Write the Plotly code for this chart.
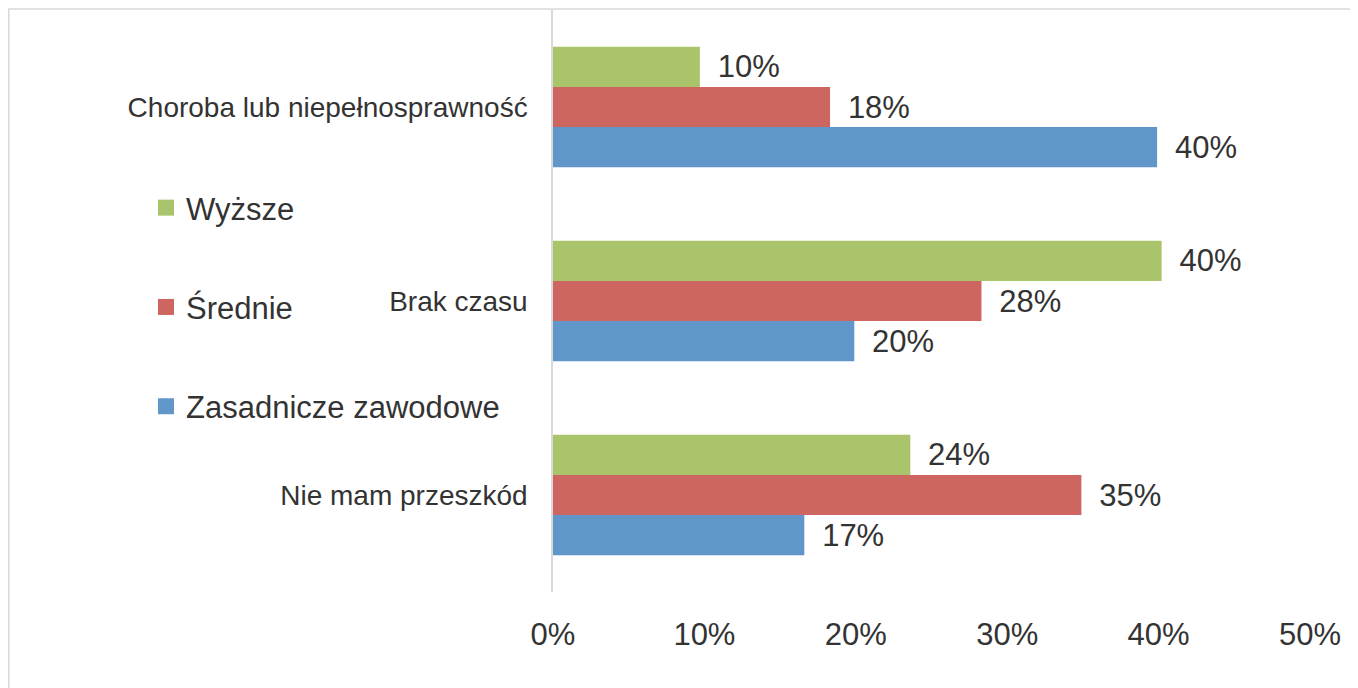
import plotly.graph_objects as go

categories = ["Choroba lub niepełnosprawność", "Brak czasu", "Nie mam przeszkód"]
series_names = ["Wyższe", "Średnie", "Zasadnicze zawodowe"]
wyzsze = [9.7, 40.2, 23.6]
srednie = [18.3, 28.3, 34.9]
zasadnicze = [39.9, 19.9, 16.6]
colors = ["#AAC46B", "#CD6660", "#6096C9"]
x_ticks = [0, 10, 20, 30, 40, 50]
x_tick_labels = ["0%", "10%", "20%", "30%", "40%", "50%"]

TXT = "#333333"
FONT = "Liberation Sans, Arial, sans-serif"

fig = go.Figure()
for name, vals, col in zip(series_names, [wyzsze, srednie, zasadnicze], colors):
    fig.add_trace(go.Bar(
        y=categories, x=vals, name=name, orientation="h",
        marker=dict(color=col, line=dict(width=0)),
        texttemplate="\u00a0\u2009%{x:.0f}%", textposition="outside",
        textfont=dict(size=31, color=TXT, family=FONT),
        constraintext="none", cliponaxis=False,
        showlegend=False,
    ))
# legend entries (square swatches)
for name, col in zip(series_names, colors):
    fig.add_trace(go.Scatter(
        x=[None], y=[None], mode="markers", name=name,
        marker=dict(symbol="square", size=16, color=col),
        legendgroup=name, showlegend=True,
    ))

W, H = 1358, 688
ml, mr, mt, mb = 545, 56, 2, 104
pw = W - ml - mr
ph = H - mt - mb

fig.update_layout(
    width=W, height=H,
    margin=dict(l=ml, r=mr, t=mt, b=mb, autoexpand=False),
    paper_bgcolor="white", plot_bgcolor="white",
    barmode="group", bargap=0.38, bargroupgap=0,
    font=dict(family=FONT, color=TXT),
    showlegend=True,
    legend=dict(
        xref="container", yref="container",
        x=138 / W, xanchor="left",
        y=1 - 173 / H, yanchor="top",
        font=dict(size=31, color=TXT, family=FONT),
        tracegroupgap=56, bgcolor="rgba(0,0,0,0)",
    ),
    xaxis=dict(
        range=[0, 50], tickvals=x_ticks, ticktext=x_tick_labels,
        showgrid=False, zeroline=False, showline=False, automargin=False,
        tickfont=dict(size=31, color=TXT, family=FONT),
        ticklabelstandoff=21,
    ),
    yaxis=dict(
        autorange="reversed", showgrid=False, zeroline=False, automargin=False,
        showline=True, linecolor="#D9D9D9", linewidth=1.5,
        tickfont=dict(size=28, color=TXT, family=FONT),
        ticklabelstandoff=18,
    ),
    shapes=[dict(
        type="rect", xref="paper", yref="paper",
        x0=(0.75 - ml) / pw, x1=(1400 - ml) / pw,
        y0=1 - (720 - mt) / ph, y1=1 - (1 - mt) / ph,
        line=dict(color="#D9D9D9", width=1.5), fillcolor="rgba(0,0,0,0)",
        layer="below",
    )],
)

fig.write_html("out.html")
